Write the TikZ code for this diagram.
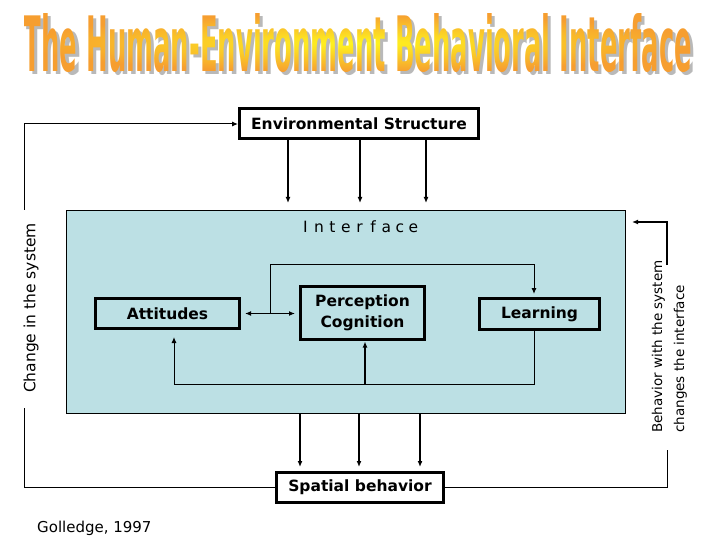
\documentclass[tikz,border=0pt]{standalone}
\usepackage{fontspec}
\setmainfont{DejaVu Sans}
\usetikzlibrary{arrows.meta,fadings}
\definecolor{ifblue}{RGB}{188,224,228}
\definecolor{ttorange}{RGB}{246,158,48}
\definecolor{ttyellow}{RGB}{255,246,30}
\newcommand{\mytitletext}{\resizebox{668pt}{58pt}{\normalfont\bfseries The Human-Environment Behavioral Interface}}
\begin{tikzfadingfrompicture}[name=titlefade]
\path (-692pt,72pt) rectangle (692pt,-72pt);
\node[text=transparent!0, inner sep=0pt] at (358pt,-43pt) {\mytitletext};
\end{tikzfadingfrompicture}
\begin{document}
\begin{tikzpicture}[x=1pt,y=-1pt,
  tip/.style={-{Latex[length=6pt,width=5pt]}},
  boxstyle/.style={draw, line width=3pt, inner sep=0pt, align=center,
    font=\bfseries\fontsize{15.5}{21}\selectfont},
  thk/.style={line width=2pt},
  thn/.style={line width=1pt},
  lbl/.style={inner sep=0pt, font=\fontsize{15.5}{18}\selectfont}]
\useasboundingbox (0,0) rectangle (720,540);
% title
\node[text=gray!55, inner sep=0pt] (tshadow) at (361,46) {\mytitletext};
\shade[path fading=titlefade, fit fading=false, inner color=ttyellow, outer color=ttorange]
  (24,14) rectangle (692,72);
% interface region
\node[draw, line width=0.8pt, fill=ifblue, minimum width=559pt, minimum height=203pt, inner sep=0pt]
  (iface) at (345.5,311.5) {};
\node[lbl] (iflabel) at (359.5,227) {\makebox[13.5pt]{I}\makebox[13.5pt]{n}\makebox[13.5pt]{t}\makebox[13.5pt]{e}\makebox[13.5pt]{r}\makebox[13.5pt]{f}\makebox[13.5pt]{a}\makebox[13.5pt]{c}\makebox[13.5pt]{e}};
% boxes
\node[boxstyle, fill=white, minimum width=239pt, minimum height=30pt] (env) at (359,124) {Environmental Structure};
\node[boxstyle, minimum width=144pt, minimum height=30pt] (att) at (167.5,313.5) {Attitudes};
\node[boxstyle, minimum width=124pt, minimum height=53pt] (perc) at (362.5,312.5) {Perception\\Cognition};
\node[boxstyle, minimum width=120pt, minimum height=31pt] (learn) at (539.5,314) {Learning};
\node[boxstyle, fill=white, minimum width=167pt, minimum height=30pt] (spat) at (360,487.5) {Spatial behavior};
% environment -> interface
\coordinate (e1) at (288,203);
\coordinate (e2) at (360,203);
\coordinate (e3) at (426,203);
\draw[thk,tip] (env.south -| e1) -- (e1);
\draw[thk,tip] (env.south -| e2) -- (e2);
\draw[thk,tip] (env.south -| e3) -- (e3);
% interface -> spatial behavior
\coordinate (s1) at (300,467);
\coordinate (s2) at (359,467);
\coordinate (s3) at (420,467);
\draw[thk,tip] (iface.south -| s1) -- (s1);
\draw[thk,tip] (iface.south -| s2) -- (s2);
\draw[thk,tip] (iface.south -| s3) -- (s3);
% internal links
\draw[line width=1.6pt, {Latex[length=6pt,width=5pt]}-{Latex[length=6pt,width=5pt]}, shorten <=4pt, shorten >=4pt]
  (att.east) -- (att.east -| perc.west);
\coordinate (tl) at (270,264);
\coordinate (tr) at (534,264);
\draw[thn,tip,shorten >=3pt] (att.east -| tl) -- (tl) -- (tr) -- (tr |- learn.north);
\coordinate (bl) at (174,384);
\coordinate (br) at (534,384);
\coordinate (bm) at (365,384);
\draw[thn,tip,shorten >=7pt] (br |- learn.south) -- (br) -- (bl) -- (bl |- att.south);
\draw[line width=1.4pt,tip,shorten >=1pt] (bm) -- (bm |- perc.south);
% left feedback loop
\coordinate (lA) at (24,408);
\coordinate (lB) at (24,210);
\draw[thn] (spat.west) -- (spat.west -| lA) -- (lA);
\draw[thn,tip] (lB) |- (env.west);
\node[lbl, rotate=90] (lchg) at (31,308) {Change in the system};
% right feedback loop
\coordinate (rA) at (667,450);
\coordinate (rB) at (667,265);
\coordinate (rT) at (632,222);
\draw[thn] (spat.east) -| (rA);
\draw[line width=1.4pt,tip] (rB) |- (rT);
\node[inner sep=0pt, rotate=90, anchor=west, align=left, font=\fontsize{13.5}{22}\selectfont]
  (rlab) at (669.5,433) {Behavior with the system\\changes the interface};
% citation
\node[lbl, anchor=base west, font=\fontsize{15}{18}\selectfont] (cite) at (37,532) {Golledge, 1997};
\end{tikzpicture}
\end{document}
